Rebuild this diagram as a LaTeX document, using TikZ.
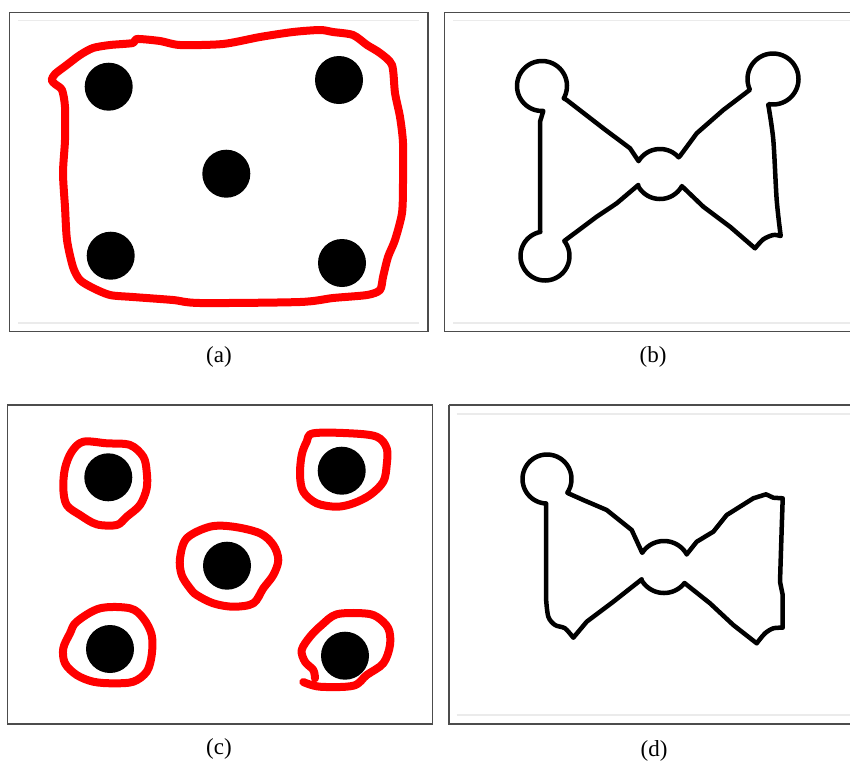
\documentclass[tikz,border=0pt]{standalone}
\usepackage{fontspec}
\setmainfont{Liberation Serif}
\begin{document}
\begin{tikzpicture}[x=1pt,y=-1pt,
  frame/.style={draw=black!70,line width=1.2pt},
  guide/.style={draw=black!8,line width=1.2pt},
  dot/.style={fill=black},
  redline/.style={draw={rgb,255:red,255;green,0;blue,0},line width=8pt,line join=round,line cap=round},
  bow/.style={draw=black,line width=4.5pt,line join=round,line cap=round},
  lab/.style={font=\fontsize{23}{26}\selectfont,inner sep=0pt}]
\useasboundingbox (0,0) rectangle (850,764);
\fill[white] (0,0) rectangle (850,764);

% ---------- (a)
\draw[frame] (9.5,12.3) rectangle (428,331.5);
\draw[guide] (18,20.3) -- (419,20.3);
\draw[guide] (18,323) -- (419,323);
\fill[dot] (108.7,86.7) circle (24);
\fill[dot] (339,80) circle (24);
\fill[dot] (226.3,173.7) circle (24);
\fill[dot] (110.7,255.7) circle (24);
\fill[dot] (342,263) circle (24);
\draw[redline] plot[smooth cycle,tension=0.45] coordinates {
 (51.7,80) (55,74) (66.7,65) (80,55) (93,48) (110,45) (133,43) (137,39)
 (160,41) (180,45) (223,44) (260,37) (293,32) (320,30) (333,32) (353,35)
 (367,45) (380,53) (392,65) (395,93) (400,117) (403,143) (403,183) (402,213)
 (395,240) (388,257) (383,277) (380,290) (367,295) (333,298) (300,302)
 (200,303) (173,300) (133,297) (110,295) (93,288) (80,280) (73,267)
 (67,240) (65,207) (63,173) (65,140) (65,107) (62,90) (55,84)};
\node[lab] (la) at (219,357) {(a)};

% ---------- (b)
\draw[frame] (444.7,12.3) -- (444.7,331.5) -- (850,331.5);
\draw[frame] (444.7,12.3) -- (850,12.3);
\draw[guide] (453.3,20.3) -- (850,20.3);
\draw[guide] (453.3,323) -- (850,323);
\draw[bow] (566.7,100)
  -- plot[domain=29.5:-273,samples=50,variable=\t] ({542+25*cos(\t)},{86+25*sin(\t)})
  -- (540,121.7) -- (540,230)
  -- plot[domain=-101:-398,samples=50,variable=\t] ({545+24.5*cos(\t)},{256+24.5*sin(\t)})
  -- (596.7,216.7) -- (616.7,203.3) -- (638.3,185)
  -- plot[domain=153:29,samples=25,variable=\t] ({660+25*cos(\t)},{174+25*sin(\t)})
  -- (703.3,206.7) -- (730,226.7) -- (755,248.3)
  -- plot[smooth,tension=0.5] coordinates {(755,248.3) (763.3,239.3) (773.3,235) (780.7,236)}
  -- plot[smooth,tension=0.5] coordinates {(780.7,236) (776.7,200) (773.3,140) (768.3,105)}
  -- plot[domain=100:-205,samples=50,variable=\t] ({773+25.5*cos(\t)},{79+25.5*sin(\t)})
  -- (723.3,110) -- (696.7,133.3) -- (680,156)
  -- plot[domain=-42:-149,samples=25,variable=\t] ({660+25*cos(\t)},{174+25*sin(\t)})
  -- (630,148.3) -- (603.3,128.3) -- cycle;
\node[lab] (lb) at (653,357) {(b)};

% ---------- (c)
\draw[frame] (7.3,405) rectangle (432.3,724);
\fill[dot] (108.3,477.3) circle (24);
\fill[dot] (341.7,470.7) circle (24);
\fill[dot] (227,565.7) circle (24);
\fill[dot] (110,649) circle (24);
\fill[dot] (345,655.7) circle (24);
\draw[redline] plot[smooth cycle,tension=0.55] coordinates {
 (83.3,441.7) (106.7,443.3) (130,445) (143.3,456.7) (146.7,471.7) (146.7,488.3)
 (140,505) (126.7,516.7) (116.7,525) (96.7,524.3) (80,515) (66.7,505)
 (63.3,488.3) (65,468.3) (71.7,451.7)};
\draw[redline] plot[smooth cycle,tension=0.55] coordinates {
 (313.3,433.3) (350,433.3) (376.7,436.7) (386.7,448.3) (386.7,465) (383.3,481.7)
 (370,495) (353.3,503.3) (336.7,506.7) (316.7,503.3) (303.3,491.7) (300,475)
 (301.7,455) (306.7,441.7)};
\draw[redline] plot[smooth cycle,tension=0.55] coordinates {
 (186.7,538.3) (210,526.7) (233.3,526.7) (260,533.3) (273.3,545) (278.3,560)
 (273.3,575) (263.3,588.3) (253.3,603.3) (233.3,606.7) (213.3,603.3)
 (196.7,595) (190,588.3) (181.7,575) (180,558.3)};
\draw[redline] plot[smooth cycle,tension=0.55] coordinates {
 (76.7,621.7) (100,608.3) (130,608.3) (143.3,618.3) (151.7,635) (151.7,655)
 (146.7,671.7) (133.3,681.7) (113.3,683.3) (93.3,681.7) (76.7,675) (65,663.3)
 (63.3,648.3) (70,633.3)};
\draw[redline] plot[smooth,tension=0.55] coordinates {
 (303.3,682) (320,686.7) (353.3,685.7) (366.7,675) (383.3,663.3) (390,645)
 (388.3,628.3) (376.7,616.7) (363.3,613.3) (336.7,614.3) (321.7,625) (310,636.7)
 (301.7,650) (305,661.7) (313.3,670) (315,678.3)};
\node[lab] (lc) at (219,749) {(c)};

% ---------- (d)
\draw[frame] (449,405) -- (449,724) -- (850,724);
\draw[frame] (449,405) -- (850,405);
\draw[guide] (456.7,414) -- (850,414);
\draw[guide] (456.7,715) -- (850,715);
\draw[bow] (568.3,493.3)
  -- plot[domain=34:-268,samples=50,variable=\t] ({547+24.5*cos(\t)},{479+24.5*sin(\t)})
  -- (546,598.3)
  -- plot[smooth,tension=0.5] coordinates {(546,598.3) (548.3,616.7) (555,625) (565,628.3) (573.3,637.7)}
  -- (586.7,621.7) -- (613.3,601.7) -- (641.7,579.3)
  -- plot[domain=151:38,samples=25,variable=\t] ({664+26*cos(\t)},{567+26*sin(\t)})
  -- (710,603.3) -- (733.3,625) -- (756.7,643.3)
  -- plot[smooth,tension=0.5] coordinates {(756.7,643.3) (765,633.3) (773.3,628.3) (782.7,627.7)}
  -- (782.7,595) -- (780,581.7) -- (781.7,528.3) -- (782.7,498.3) -- (773.3,497.7) -- (766,494.3)
  -- (753.3,498.3) -- (726.7,515) -- (713.3,531.7) -- (696.7,541.7) -- (686.7,554.3)
  -- plot[domain=-29:-147,samples=25,variable=\t] ({664+26*cos(\t)},{567+26*sin(\t)})
  -- (631.7,530) -- (606.7,510) -- (583.3,500) -- cycle;
\node[lab] (ld) at (654,751) {(d)};
\end{tikzpicture}
\end{document}
